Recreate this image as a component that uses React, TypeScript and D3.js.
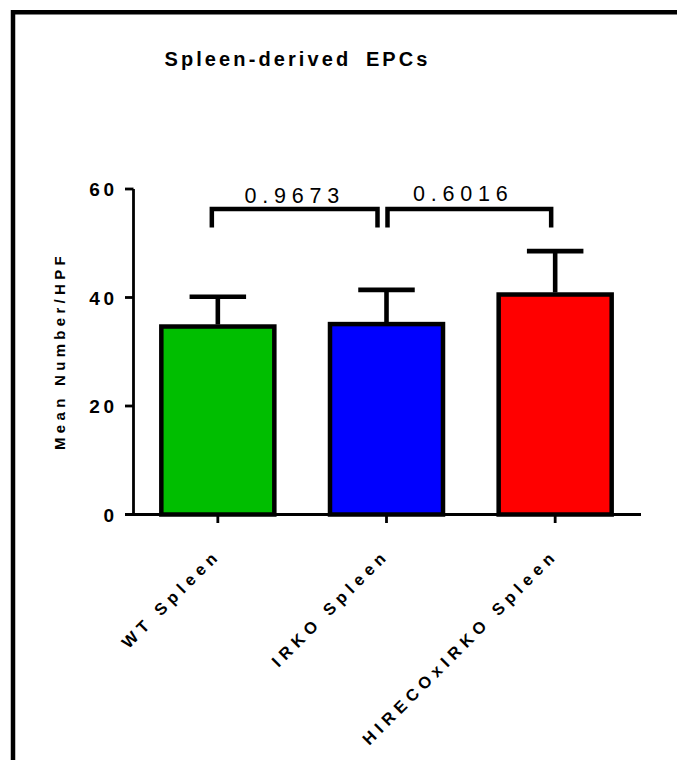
import React from "react";
import * as d3 from "d3";

// Group names, means and SEM
const groups = ["WT Spleen", "IRKO Spleen", "HIRECOxIRKO Spleen"];
const means = [34.65, 35.1, 40.55];
const sems = [5.5, 6.3, 8.0];
const fills = ["#00BE00", "#0000FF", "#FF0000"];

// y-axis ticks
const yTicks = [0, 20, 40, 60];

// Pairwise comparisons drawn as brackets
const compFrom = [0, 1];
const compTo = [1, 2];
const compLabels = ["0.9673", "0.6016"];
const bracketTop = 56.3;
const bracketLeg = 52.9;

const W = 677;
const H = 760;
const FONT = "'Liberation Sans', Arial, Helvetica, sans-serif";

export default function App() {
  const x = d3
    .scaleBand<string>()
    .domain(groups)
    .range([133.5, 639.5])
    .paddingInner(0.33)
    .paddingOuter(0.165);
  const y = d3.scaleLinear().domain([0, 60]).range([514.5, 189]);

  const cx = (i: number) => (x(groups[i]) as number) + x.bandwidth() / 2;
  const bw = x.bandwidth();

  // bracket leg insets (left, right) and label nudges
  const legInset = [
    [-6, -9],
    [1, -4],
  ];
  const labelNudge = [-3, -9];

  return (
    <svg
      width={W}
      height={H}
      style={{ position: "absolute", left: 0, top: 0, background: "#fff" }}
      fontFamily={FONT}
    >
      <rect x={0} y={0} width={W} height={H} fill="#fff" />
      {/* frame */}
      <path d={`M13,${H} V12.3 H${W}`} fill="none" stroke="#000" strokeWidth={4.5} />

      {/* title */}
      <text
        x={297.5}
        y={66}
        textAnchor="middle"
        fontSize={20}
        fontWeight="bold"
        letterSpacing={3.1}
        wordSpacing={6}
        fill="#000"
      >
        Spleen-derived EPCs
      </text>

      {/* bars */}
      {groups.map((g, i) => (
        <rect
          key={g}
          x={x(g)}
          y={y(means[i])}
          width={bw}
          height={y(0) - y(means[i])}
          fill={fills[i]}
          stroke="#000"
          strokeWidth={4.5}
        />
      ))}

      {/* error bars (upper) */}
      {groups.map((g, i) => {
        const c = cx(i);
        const top = y(means[i] + sems[i]);
        return (
          <g key={g + "-err"} stroke="#000" strokeWidth={4.6}>
            <line x1={c} x2={c} y1={y(means[i]) - 2} y2={top} />
            <line x1={c - bw / 4} x2={c + bw / 4} y1={top} y2={top} />
          </g>
        );
      })}

      {/* y axis */}
      <line x1={133.5} x2={133.5} y1={y(60)} y2={y(0)} stroke="#000" strokeWidth={2.8} />
      {yTicks.map((t) => (
        <g key={t}>
          <line x1={125} x2={133.5} y1={y(t)} y2={y(t)} stroke="#000" strokeWidth={2.8} />
          <text
            x={114 + 3.5}
            y={y(t) + 7}
            textAnchor="end"
            fontSize={19}
            fontWeight="bold"
            letterSpacing={3.5}
            fill="#000"
          >
            {t}
          </text>
        </g>
      ))}
      <text
        transform={`translate(65,351) rotate(-90)`}
        textAnchor="middle"
        fontSize={15}
        fontWeight="bold"
        letterSpacing={4.3}
        fill="#000"
      >
        Mean Number/HPF
      </text>

      {/* x axis */}
      <line x1={125} x2={641} y1={y(0)} y2={y(0)} stroke="#000" strokeWidth={2.8} />
      {groups.map((g, i) => (
        <g key={g + "-tick"}>
          <line x1={cx(i)} x2={cx(i)} y1={y(0)} y2={y(0) + 8.5} stroke="#000" strokeWidth={2.8} />
          <text
            transform={`translate(${cx(i) + 4},556) rotate(-45)`}
            textAnchor="end"
            fontSize={16.5}
            fontWeight="bold"
            letterSpacing={5.3}
            fill="#000"
          >
            {g}
          </text>
        </g>
      ))}

      {/* comparison brackets */}
      {compLabels.map((lab, k) => {
        const x1 = cx(compFrom[k]) + legInset[k][0];
        const x2 = cx(compTo[k]) + legInset[k][1];
        const yt = y(bracketTop);
        const yl = y(bracketLeg);
        return (
          <g key={lab}>
            <path
              d={`M${x1},${yl} V${yt} H${x2} V${yl}`}
              fill="none"
              stroke="#000"
              strokeWidth={4.5}
            />
            <text
              x={(x1 + x2) / 2 + labelNudge[k] + 3}
              y={yt - 6.5 - (k === 1 ? 2 : 0)}
              textAnchor="middle"
              fontSize={21.5}
              letterSpacing={5.8}
              fill="#000"
            >
              {lab}
            </text>
          </g>
        );
      })}
    </svg>
  );
}
